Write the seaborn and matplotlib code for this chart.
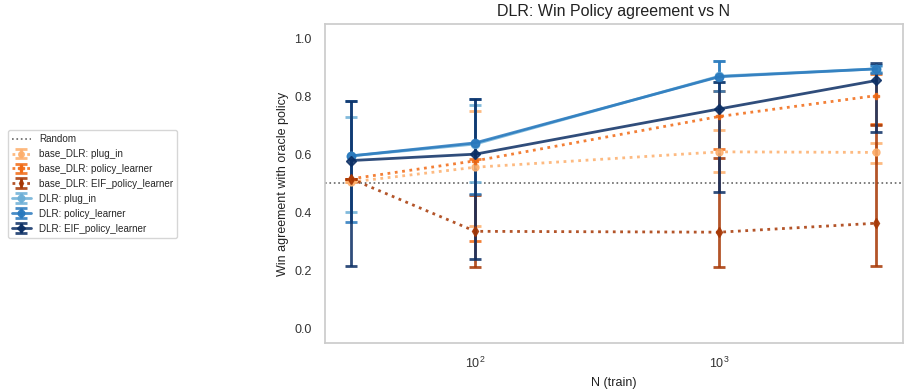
import numpy as np
import seaborn as sns
import matplotlib
matplotlib.use("Agg")
import matplotlib.pyplot as plt

# training sizes (log x axis)
n_train = [31, 100, 1000, 4400]

series_names = [
    "base_DLR: plug_in",
    "base_DLR: policy_learner",
    "base_DLR: EIF_policy_learner",
    "DLR: plug_in",
    "DLR: policy_learner",
    "DLR: EIF_policy_learner",
]

# mean win agreement per series
base_plug_in = [0.505, 0.556, 0.609, 0.607]
base_policy = [0.516, 0.578, 0.731, 0.803]
base_eif = [0.516, 0.335, 0.332, 0.363]
dlr_plug_in = [0.595, 0.636, 0.870, 0.895]
dlr_policy = [0.595, 0.640, 0.868, 0.895]
dlr_eif = [0.579, 0.601, 0.757, 0.855]

# lower / upper error bar bounds
base_plug_in_lo = [0.505, 0.354, 0.539, 0.572]
base_plug_in_hi = [0.505, 0.749, 0.683, 0.638]
base_policy_lo = [0.516, 0.301, 0.620, 0.705]
base_policy_hi = [0.516, 0.585, 0.818, 0.878]
base_eif_lo = [0.516, 0.212, 0.212, 0.215]
base_eif_hi = [0.516, 0.460, 0.589, 0.700]
dlr_plug_in_lo = [0.400, 0.504, 0.850, 0.885]
dlr_plug_in_hi = [0.728, 0.769, 0.921, 0.905]
dlr_policy_lo = [0.368, 0.465, 0.818, 0.880]
dlr_policy_hi = [0.785, 0.791, 0.921, 0.907]
dlr_eif_lo = [0.215, 0.238, 0.469, 0.678]
dlr_eif_hi = [0.785, 0.791, 0.849, 0.916]

random_level = 0.5

sns.set_theme(style="whitegrid")
plt.rcParams['font.family'] = ['Liberation Sans', 'DejaVu Sans']

oranges = ["#fdae6b", "#f16913", "#a63603"]
blues = ["#6baed6", "#2878bd", "#0b2e64"]

fig = plt.figure(figsize=(9.1, 3.92), dpi=100)
ax = fig.add_axes([0.357, 0.125, 0.635, 0.814])

ax.axhline(random_level, color="#666666", linestyle=":", linewidth=1.2, label="Random")

means = [base_plug_in, base_policy, base_eif, dlr_plug_in, dlr_policy, dlr_eif]
lows = [base_plug_in_lo, base_policy_lo, base_eif_lo, dlr_plug_in_lo, dlr_policy_lo, dlr_eif_lo]
highs = [base_plug_in_hi, base_policy_hi, base_eif_hi, dlr_plug_in_hi, dlr_policy_hi, dlr_eif_hi]
colors = oranges + blues
styles = [":", ":", ":", "-", "-", "-"]
markers = ["o", "P", "d", "o", "o", "D"]
msizes = [5, 5, 5, 6, 6, 5]

for name, m, lo, hi, c, ls, mk, ms in zip(series_names, means, lows, highs, colors, styles, markers, msizes):
    m = np.array(m)
    yerr = [m - np.array(lo), np.array(hi) - m]
    ax.errorbar(n_train, m, yerr=yerr, label=name, color=c, linestyle=ls,
                linewidth=2, marker=mk, markersize=ms, capsize=4, capthick=2,
                elinewidth=2, alpha=0.85)

ax.set_xscale("log")
ax.set_ylim(-0.05, 1.05)
ax.set_yticks([0.0, 0.2, 0.4, 0.6, 0.8, 1.0])
ax.grid(False)
for s in ax.spines.values():
    s.set_color("#cccccc")
ax.tick_params(labelsize=9, colors="#333333")
ax.set_title("DLR: Win Policy agreement vs N", fontsize=11.5, color="#222222")
ax.set_xlabel("N (train)", fontsize=9, color="#222222")
ax.set_ylabel("Win agreement with oracle policy", fontsize=9, color="#222222")

ax.legend(loc="center right", bbox_to_anchor=(0.198, 0.531), bbox_transform=fig.transFigure,
          fontsize=7.1, frameon=True, borderaxespad=0.3, markerscale=0.8)

fig.savefig("out.png", dpi=100)
